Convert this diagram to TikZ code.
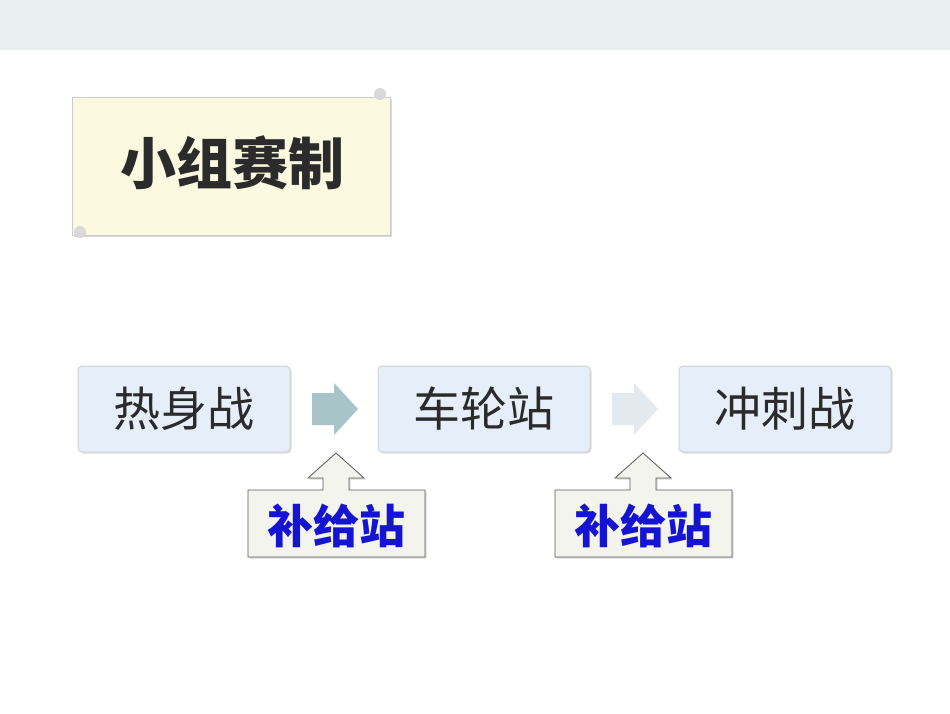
\documentclass[tikz,border=0pt]{standalone}
\usepackage{fontspec}
\newfontfamily\cjk{Noto Sans CJK SC}
\usetikzlibrary{shadows}
\definecolor{band}{HTML}{E8F0EF}
\definecolor{scroll}{HTML}{FBF9E0}
\definecolor{boxfill}{HTML}{E6EEF9}
\definecolor{arrA}{HTML}{A9C4C9}
\definecolor{arrB}{HTML}{E3EAEF}
\definecolor{callfill}{HTML}{F4F4EE}
\definecolor{txt}{HTML}{2B2B2B}
\definecolor{bluetxt}{HTML}{1414D2}
\tikzset{
  stage/.style={draw=gray!35, line width=1pt, fill=boxfill, rounded corners=4pt, minimum width=212pt, minimum height=86pt, font=\cjk\fontsize{47}{50}\selectfont, text=txt, drop shadow={opacity=0.25, shadow xshift=1.5pt, shadow yshift=-1.5pt}},
  calltxt/.style={font=\cjk\bfseries\fontsize{46}{48}\selectfont, text=bluetxt},
  callshape/.style={draw=gray!70!black, line width=0.8pt, fill=callfill, drop shadow={opacity=0.3, shadow xshift=1.5pt, shadow yshift=-1.5pt}},
}
\begin{document}
\begin{tikzpicture}[x=1pt,y=-1pt]
\useasboundingbox (0,0) rectangle (950,713);
\fill[white] (0,0) rectangle (950,713);
\fill[band] (0,0) rectangle (950,50);
% scroll
\fill[scroll, drop shadow={opacity=0.3}] (72,97) rectangle (390,235);
\draw[gray!40, line width=0.8pt] (72,97) rectangle (390,235);
\fill[gray!30] (80,232) circle (6);
\fill[gray!30] (380,94) circle (6);
\node[text=txt] (title) at (232,163) {\cjk\bfseries\fontsize{56}{58}\selectfont 小组赛制};
% stages
\node[stage] (s1) at (184,409) {热身战};
\node[stage] (s2) at (484,409) {车轮站};
\node[stage] (s3) at (785,409) {冲刺战};
% right arrows
\coordinate (a1) at (312,409);
\coordinate (a2) at (612,409);
\fill[arrA] (a1) ++(0,-16) -- ++(22,0) -- ++(0,-10) -- ++(24,26) -- ++(-24,26) -- ++(0,-10) -- ++(-22,0) -- cycle;
\fill[arrB] (a2) ++(0,-16) -- ++(22,0) -- ++(0,-10) -- ++(24,26) -- ++(-24,26) -- ++(0,-10) -- ++(-22,0) -- cycle;
% callouts
\foreach \cx/\nm in {336/c1, 643/c2}{
  \path[callshape] (\cx-88,490) -- (\cx-13,490) -- (\cx-13,478) -- (\cx-28,478) -- (\cx,453) -- (\cx+28,478) -- (\cx+13,478) -- (\cx+13,490) -- (\cx+89,490) -- (\cx+89,557) -- (\cx-88,557) -- cycle;
  \node[calltxt] (\nm) at (\cx,526) {补给站};
}
\end{tikzpicture}
\end{document}
